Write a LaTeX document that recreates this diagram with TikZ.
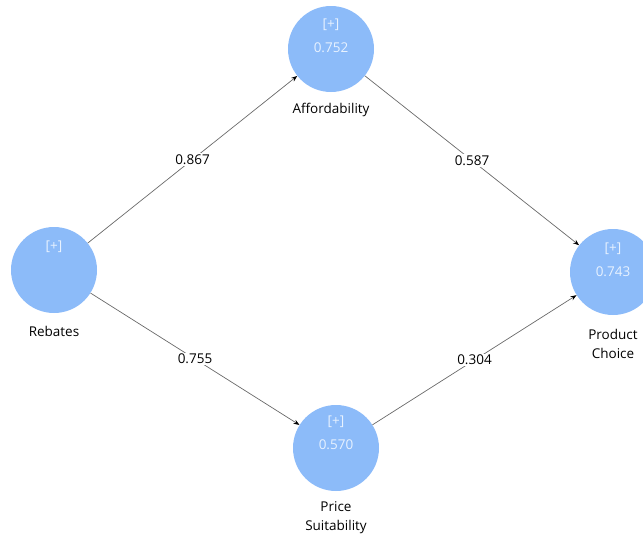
\documentclass[tikz,border=0pt]{standalone}
\usepackage{fontspec}
\setmainfont{Open Sans}
\usetikzlibrary{arrows.meta,positioning}
\definecolor{lvfill}{RGB}{140,187,249}
\definecolor{lvtext}{RGB}{232,242,255}
\definecolor{pathgray}{RGB}{105,105,105}

\begin{document}
\begin{tikzpicture}[x=1pt,y=1pt,yscale=-1,
  lv/.style={circle,fill=lvfill,minimum size=86pt,inner sep=0pt},
  lvtxt/.style={text=lvtext,inner sep=0.75pt,font=\fontsize{13.5}{16}\selectfont},
  lbl/.style={align=center,inner sep=0.75pt,font=\fontsize{13.5}{19}\selectfont},
  coef/.style={fill=white,inner sep=1.5pt,font=\fontsize{13.5}{16}\selectfont},
  pth/.style={draw=pathgray,line width=0.7pt,-{Stealth[length=6pt,width=4.5pt,black]}}]
\useasboundingbox (0,0) rectangle (643,536);

%Latent variables
\node[lv] (reb) at (54,270) {};
\node[lv] (aff) at (331,49) {};
\node[lv] (ps) at (336,448) {};
\node[lv] (pc) at (613,272) {};

% Text Node
\node[lvtxt] (rebp) at (54,247) {[+]};
\node[lvtxt] (affp) at (331,25) {[+]};
\node[lvtxt] (affr) at (331,48) {0.752};
\node[lvtxt] (psp) at (336,422) {[+]};
\node[lvtxt] (psr) at (336,445) {0.570};
\node[lvtxt] (pcp) at (613,249) {[+]};
\node[lvtxt] (pcr) at (613,272) {0.743};

% Text Node
\node[lbl] (reblbl) at (54,331) {Rebates};
\node[lbl] (afflbl) at (331,110) {Affordability};
\node[lbl] (pslbl) at (336,518) {Price\\Suitability};
\node[lbl] (pclbl) at (613,344) {Product\\Choice};

%Paths
\draw[pth] (reb) -- node[coef] {0.867} (aff);
\draw[pth] (reb) -- node[coef] {0.755} (ps);
\draw[pth] (aff) -- node[coef] {0.587} (pc);
\draw[pth] (ps) -- node[coef] {0.304} (pc);

\end{tikzpicture}
\end{document}
